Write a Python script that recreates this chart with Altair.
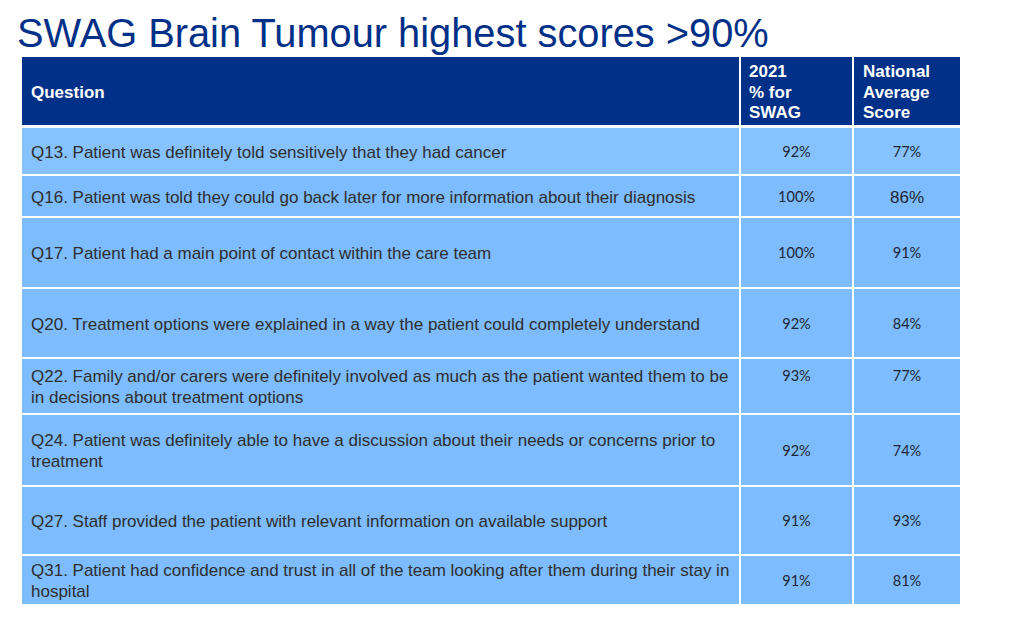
import altair as alt
import pandas as pd

# ---- data ----
title_text = "SWAG Brain Tumour highest scores >90%"
header_labels = ["Question", "2021\n% for\nSWAG", "National\nAverage\nScore"]
questions = [
    "Q13. Patient was definitely told sensitively that they had cancer",
    "Q16. Patient was told they could go back later for more information about their diagnosis",
    "Q17. Patient had a main point of contact within the care team",
    "Q20. Treatment options were explained in a way the patient could completely understand",
    "Q22. Family and/or carers were definitely involved as much as the patient wanted them to be\nin decisions about treatment options",
    "Q24. Patient was definitely able to have a discussion about their needs or concerns prior to\ntreatment",
    "Q27. Staff provided the patient with relevant information on available support",
    "Q31. Patient had confidence and trust in all of the team looking after them during their stay in\nhospital",
]
swag_pct = ["92%", "100%", "100%", "92%", "93%", "92%", "91%", "91%"]
national_pct = ["77%", "86%", "91%", "84%", "77%", "74%", "93%", "81%"]

# ---- layout (page pixel coordinates) ----
col_left = [22, 741, 854]
col_right = [739, 852, 960]
header_top, header_bottom = 57, 125
row_top = [128, 176, 218, 289, 359, 415, 487, 556]
row_bottom = [174, 216, 287, 357, 413, 485, 554, 604]
num_dy = [0, 0, 0, 0, -10.5, 0, 0, 0]
header_text_x = [31, 749, 863]
question_x = 31
LINE_H = 20.5
TEXT_NUDGE = 1.5

HEADER_BLUE = "#003087"
ROW_BLUE = "#7dbcfe"
ROW_BLUE_LIGHT = "#86c2ff"


def block_top(center, label):
    n = label.count("\n") + 1
    return center - (n - 1) * LINE_H / 2 + TEXT_NUDGE


# rect table
rects = []
for c in range(3):
    rects.append(dict(x=col_left[c], x2=col_right[c], y=header_top, y2=header_bottom, fill=HEADER_BLUE))
for r in range(len(questions)):
    for c in range(3):
        rects.append(dict(x=col_left[c], x2=col_right[c], y=row_top[r], y2=row_bottom[r],
                          fill=ROW_BLUE_LIGHT if r == 0 else ROW_BLUE))
rect_df = pd.DataFrame(rects)

hc = (header_top + header_bottom) / 2
header_df = pd.DataFrame(dict(
    x=header_text_x, y=[block_top(hc, l) for l in header_labels], label=header_labels))

q_df = pd.DataFrame(dict(
    x=[question_x] * len(questions),
    y=[block_top((t + b) / 2, q) for t, b, q in zip(row_top, row_bottom, questions)],
    label=questions))

num_rows = []
for r in range(len(questions)):
    yc = (row_top[r] + row_bottom[r]) / 2 + num_dy[r] + TEXT_NUDGE
    num_rows.append(dict(x=(col_left[1] + col_right[1]) / 2, y=yc, label=swag_pct[r], big=False))
    num_rows.append(dict(x=(col_left[2] + col_right[2]) / 2, y=yc, label=national_pct[r],
                         big=(r == 1)))
num_df = pd.DataFrame(num_rows)

title_df = pd.DataFrame(dict(x=[17], y=[47], label=[title_text]))

W, H = 1000, 616
xs = alt.Scale(domain=[8, 8 + W], range=[0, W])
ys = alt.Scale(domain=[8, 8 + H], range=[0, H])

X = lambda f="x": alt.X(f"{f}:Q", scale=xs, axis=None)
Y = lambda f="y": alt.Y(f"{f}:Q", scale=ys, axis=None)

rect_layer = alt.Chart(rect_df).mark_rect().encode(
    x=X(), x2="x2:Q", y=Y(), y2="y2:Q",
    fill=alt.Fill("fill:N", scale=None))

header_layer = alt.Chart(header_df).mark_text(
    align="left", baseline="middle", font="Liberation Sans", fontSize=17,
    fontWeight="bold", color="white", lineBreak="\n", lineHeight=LINE_H
).encode(x=X(), y=Y(), text="label:N")

q_layer = alt.Chart(q_df).mark_text(
    align="left", baseline="middle", font="Liberation Sans", fontSize=17,
    color="#2e2e2e", lineBreak="\n", lineHeight=LINE_H
).encode(x=X(), y=Y(), text="label:N")

num_layer = alt.Chart(num_df).transform_filter("!datum.big").mark_text(
    align="center", baseline="middle", font="Lato", fontSize=14.5, color="#1d2633"
).encode(x=X(), y=Y(), text="label:N")

num_big_layer = alt.Chart(num_df).transform_filter("datum.big").mark_text(
    align="center", baseline="middle", font="Liberation Sans", fontSize=17, color="#1d2633"
).encode(x=X(), y=Y(), text="label:N")

title_layer = alt.Chart(title_df).mark_text(
    align="left", baseline="alphabetic", font="Liberation Sans", fontSize=39.8,
    color=HEADER_BLUE
).encode(x=X(), y=Y(), text="label:N")

chart = alt.layer(rect_layer, header_layer, q_layer, num_layer, num_big_layer, title_layer).properties(
    width=W, height=H, padding=0,
    autosize=alt.AutoSizeParams(type="fit", contains="padding"),
    background="white",
).configure_view(stroke=None)

chart.save("out.html", embed_options={"renderer": "svg", "actions": False})
